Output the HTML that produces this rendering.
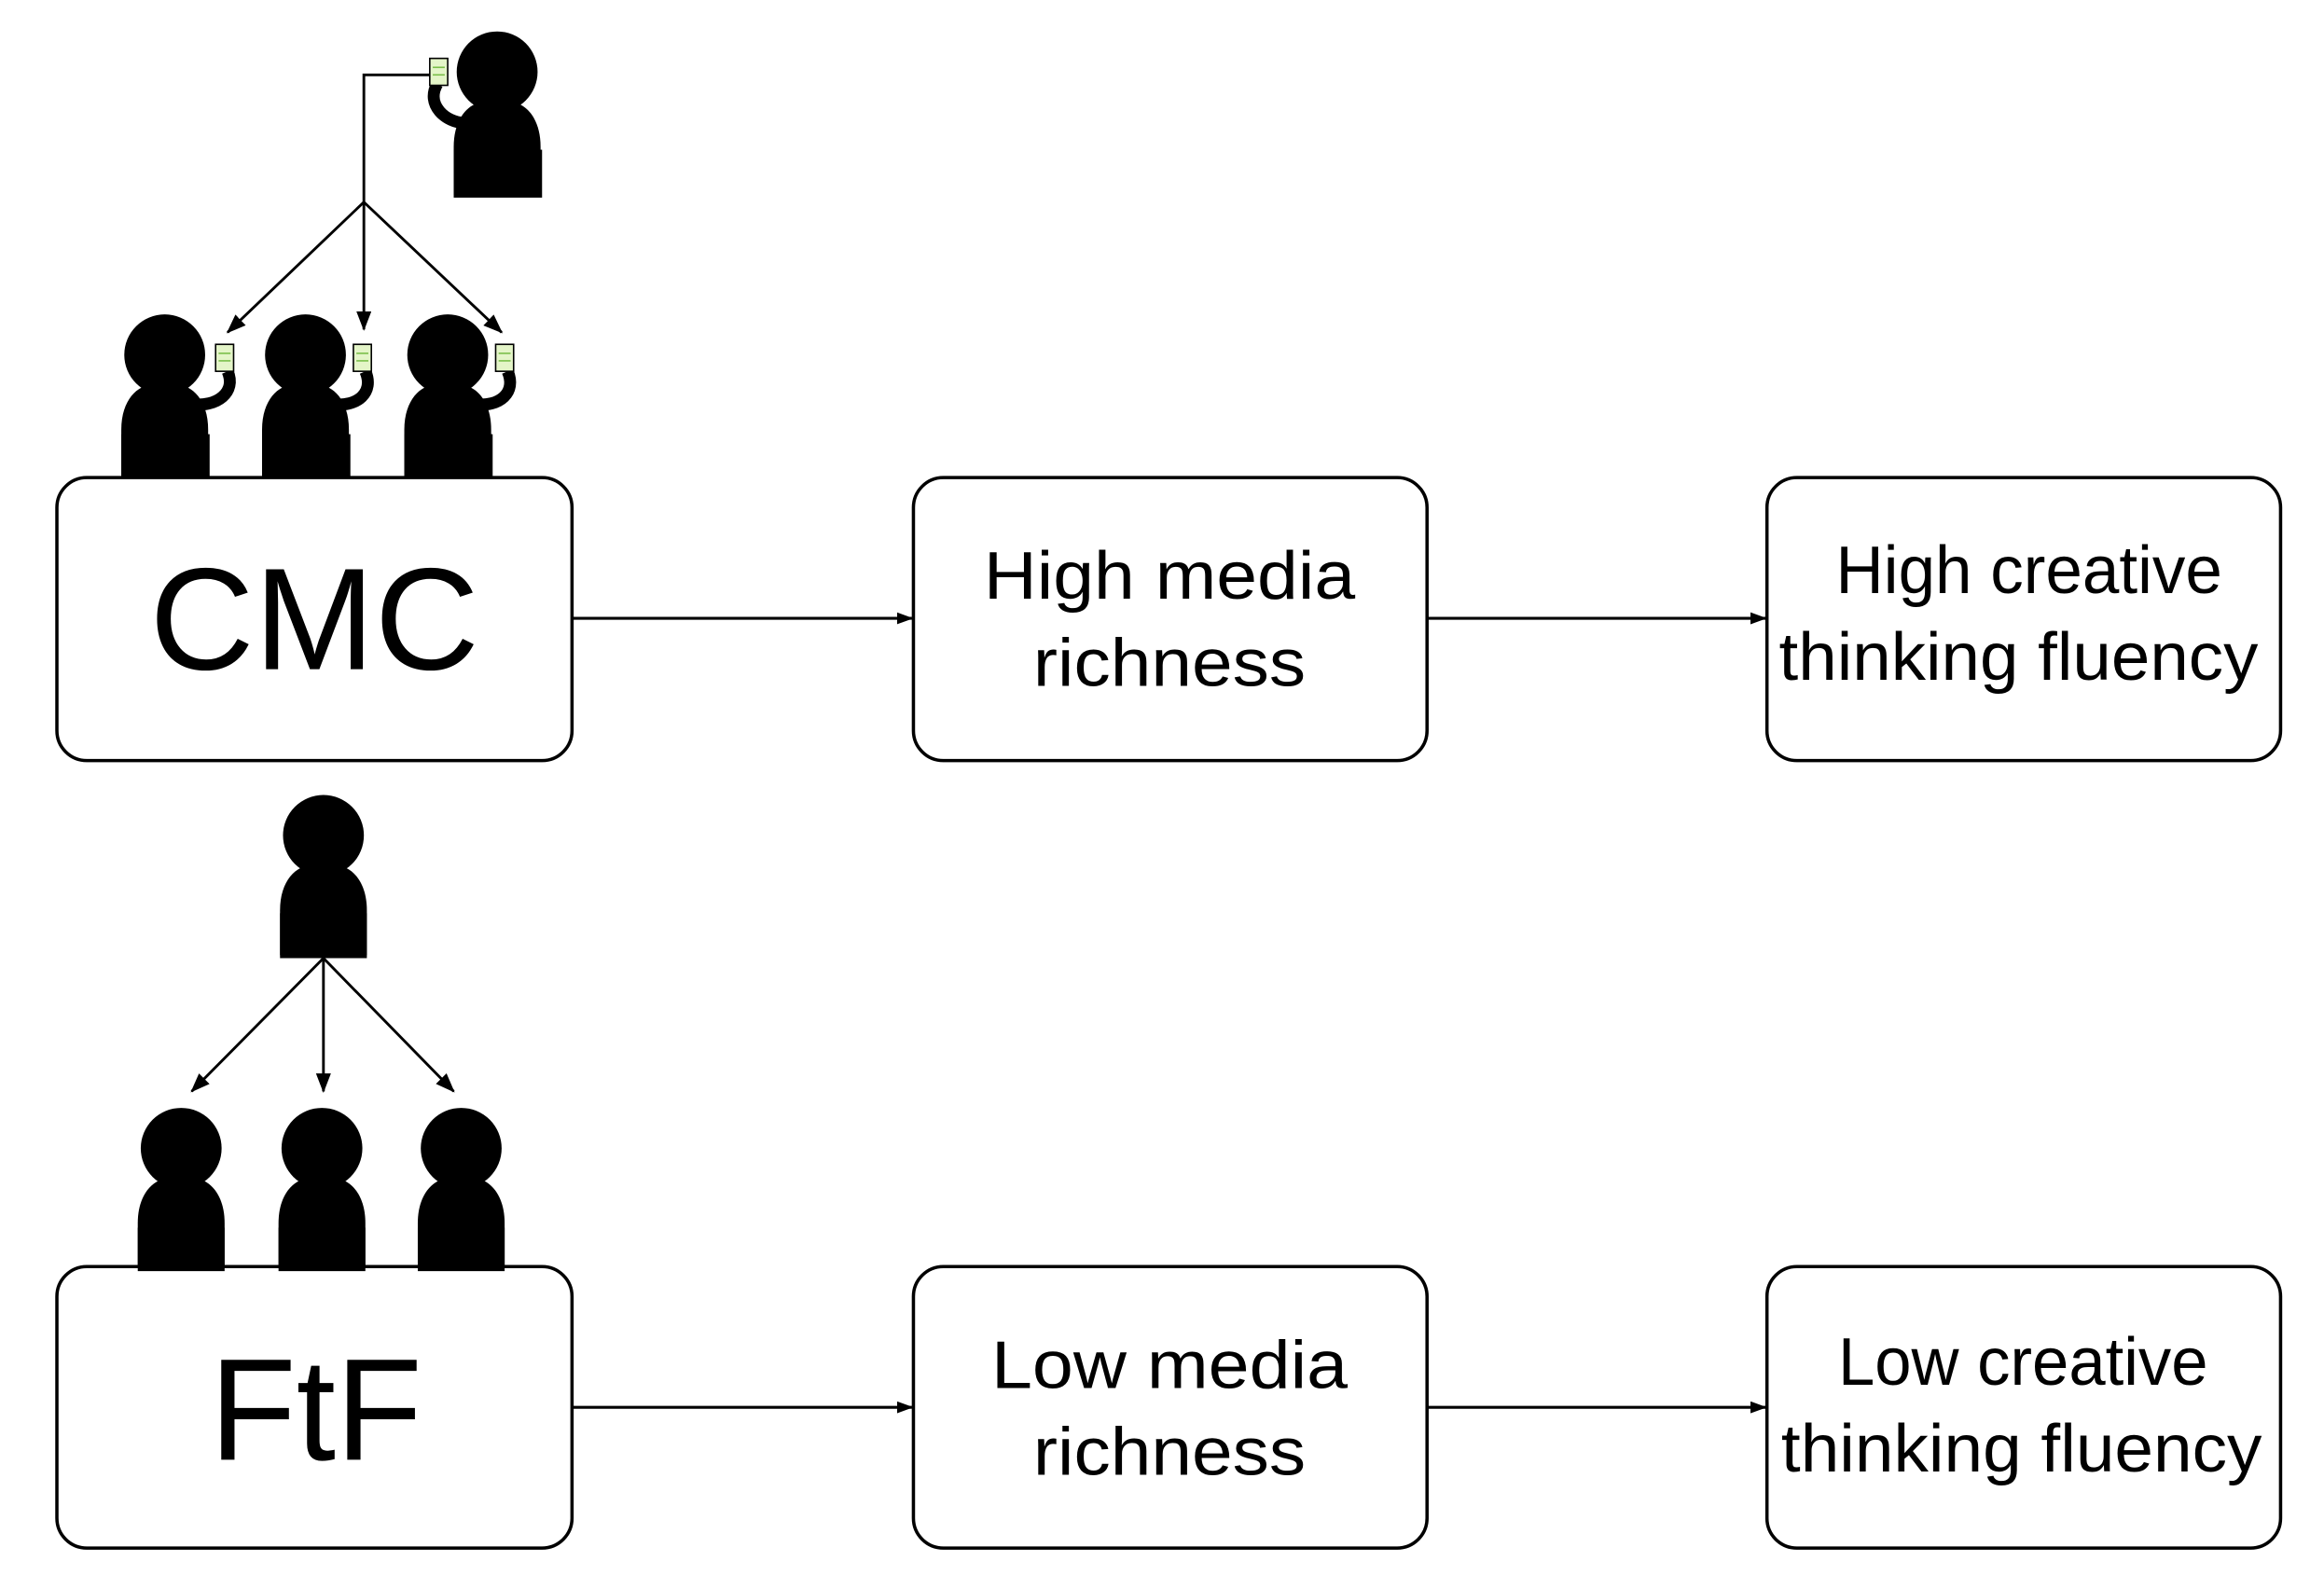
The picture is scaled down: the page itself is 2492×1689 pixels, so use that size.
<!DOCTYPE html>
<html><head><meta charset="utf-8"><style>
html,body{margin:0;padding:0;background:#fff;}
svg{display:block;}
text{font-family:"Liberation Sans",Arial,sans-serif;fill:#000;}
</style></head><body>
<svg width="2492" height="1689" viewBox="0 0 1552 1052" preserveAspectRatio="none" xmlns="http://www.w3.org/2000/svg">
<defs>
<marker id="ah" markerWidth="13" markerHeight="10" refX="12" refY="5" orient="auto" markerUnits="userSpaceOnUse">
<path d="M0,0 L13,5 L0,10 Z" fill="#000"/>
</marker>
<marker id="ah2" markerWidth="11" markerHeight="8" refX="10" refY="4" orient="auto" markerUnits="userSpaceOnUse">
<path d="M0,0 L11,4 L0,8 Z" fill="#000"/>
</marker>
<g id="p">
<circle cx="0" cy="0" r="27" fill="#000"/>
<path d="M-29,82 L-29,50 C-29,30 -18,20 -8,20 L8,20 C18,20 29,30 29,50 L29,82 Z" fill="#000"/>
</g>
<g id="ph">
<rect x="-6" y="-9" width="12" height="18" fill="#e4f5c8" stroke="#000" stroke-width="1"/>
<line x1="-4" y1="-3" x2="4" y2="-3" stroke="#7bbf4a" stroke-width="1"/>
<line x1="-4" y1="2" x2="4" y2="2" stroke="#7bbf4a" stroke-width="1"/>
</g>
</defs>

<g fill="#fff" stroke="#000" stroke-width="2.2">
<rect x="38" y="319" width="344" height="189" rx="20"/>
<rect x="610" y="319" width="343" height="189" rx="20"/>
<rect x="1180" y="319" width="343" height="189" rx="20"/>
<rect x="38" y="846" width="344" height="188" rx="20"/>
<rect x="610" y="846" width="343" height="188" rx="20"/>
<rect x="1180" y="846" width="343" height="188" rx="20"/>
</g>

<g stroke="#000" stroke-width="2" fill="none" marker-end="url(#ah2)">
<line x1="382" y1="413" x2="609" y2="413"/>
<line x1="953" y1="413" x2="1179" y2="413"/>
<line x1="382" y1="940" x2="609" y2="940"/>
<line x1="953" y1="940" x2="1179" y2="940"/>
</g>

<text x="210" y="447" font-size="97" text-anchor="middle" textLength="220" lengthAdjust="spacingAndGlyphs">CMC</text>
<text x="781" y="400" font-size="45" text-anchor="middle" textLength="248" lengthAdjust="spacingAndGlyphs">High media</text>
<text x="781" y="458" font-size="45" text-anchor="middle" textLength="182" lengthAdjust="spacingAndGlyphs">richness</text>
<text x="1355" y="396" font-size="45" text-anchor="middle" textLength="258" lengthAdjust="spacingAndGlyphs">High creative</text>
<text x="1348" y="454" font-size="45" text-anchor="middle" textLength="320" lengthAdjust="spacingAndGlyphs">thinking fluency</text>
<text x="211" y="975" font-size="97" text-anchor="middle" textLength="142" lengthAdjust="spacingAndGlyphs">FtF</text>
<text x="781" y="927" font-size="45" text-anchor="middle" textLength="238" lengthAdjust="spacingAndGlyphs">Low media</text>
<text x="781" y="985" font-size="45" text-anchor="middle" textLength="182" lengthAdjust="spacingAndGlyphs">richness</text>
<text x="1351" y="925" font-size="45" text-anchor="middle" textLength="247" lengthAdjust="spacingAndGlyphs">Low creative</text>
<text x="1350" y="983" font-size="45" text-anchor="middle" textLength="321" lengthAdjust="spacingAndGlyphs">thinking fluency</text>

<g stroke="#000" stroke-width="1.8" fill="none">
<polyline points="288,50 243,50 243,135"/>
<line x1="243" y1="135" x2="152" y2="222" marker-end="url(#ah)"/>
<line x1="243" y1="135" x2="243" y2="220" marker-end="url(#ah)"/>
<line x1="243" y1="135" x2="335" y2="222" marker-end="url(#ah)"/>
</g>
<use href="#p" x="332" y="48"/>
<rect x="303" y="100" width="59" height="32" fill="#000"/>
<path d="M292,56 C284,70 298,82 310,82" stroke="#000" stroke-width="8" fill="none"/>
<use href="#ph" x="293" y="48"/>

<use href="#p" x="110" y="237"/>
<use href="#p" x="204" y="237"/>
<use href="#p" x="299" y="237"/>
<rect x="81" y="290" width="59" height="29" fill="#000"/>
<rect x="175" y="290" width="59" height="29" fill="#000"/>
<rect x="270" y="290" width="59" height="29" fill="#000"/>
<g stroke="#000" stroke-width="8" fill="none">
<path d="M128,270 C145,272 158,262 152,248"/>
<path d="M222,270 C239,272 250,262 244,248"/>
<path d="M317,270 C334,272 345,262 339,248"/>
</g>
<use href="#ph" x="150" y="239"/>
<use href="#ph" x="242" y="239"/>
<use href="#ph" x="337" y="239"/>

<use href="#p" x="216" y="558"/>
<rect x="187" y="610" width="58" height="28" fill="#000"/>
<g stroke="#000" stroke-width="1.8" fill="none">
<line x1="216" y1="640" x2="128" y2="729" marker-end="url(#ah)"/>
<line x1="216" y1="640" x2="216" y2="729" marker-end="url(#ah)"/>
<line x1="216" y1="640" x2="303" y2="729" marker-end="url(#ah)"/>
</g>
<use href="#p" x="121" y="767"/>
<use href="#p" x="215" y="767"/>
<use href="#p" x="308" y="767"/>
<rect x="92" y="820" width="58" height="26" fill="#000"/>
<rect x="186" y="820" width="58" height="26" fill="#000"/>
<rect x="279" y="820" width="58" height="26" fill="#000"/>
</svg>
</body></html>
